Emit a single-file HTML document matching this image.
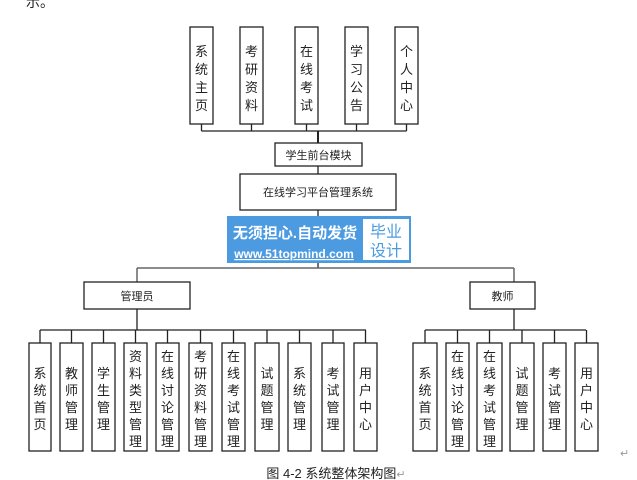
<!DOCTYPE html>
<html><head><meta charset="utf-8"><style>
body{margin:0;background:#fff;width:637px;height:480px;overflow:hidden}
svg{display:block}
text{font-family:"Liberation Sans","Noto Sans CJK SC",sans-serif;fill:#222}
</style></head><body>
<svg width="637" height="480" viewBox="0 0 637 480" xmlns="http://www.w3.org/2000/svg">
<text x="26" y="7" font-size="14">示。</text>
<g stroke="#222" stroke-width="1.3" fill="#fff">
<rect x="190" y="27" width="23" height="97"/>
<rect x="240" y="27" width="23" height="97"/>
<rect x="295" y="27" width="23" height="97"/>
<rect x="345" y="27" width="23" height="97"/>
<rect x="395" y="27" width="23" height="97"/>
<path d="M201.5 124V131M251.5 124V131M306.5 124V131M356.5 124V131M406.5 124V131M201.5 131H406.5" fill="none"/>
<path d="M318 131V143" stroke-width="2" fill="none"/>
<rect x="275" y="143" width="87" height="23"/>
<path d="M318 166V174" fill="none"/>
<rect x="240" y="174" width="156" height="36"/>
<path d="M318 210V216M318 263V268" fill="none"/>
<path d="M137 268H514M137 268V282M514 268V282" fill="none" stroke="#666" stroke-width="1.5"/>
<rect x="84" y="282" width="106" height="27"/>
<rect x="470" y="282" width="65" height="27"/>
<path d="M137 309V330M40 330H366M514 309V330M425 330H586" fill="none"/>
<path d="M40 330V343M71.5 330V343M103.5 330V343M135.5 330V343M167.5 330V343M200.5 330V343M233.5 330V343M267 330V343M299.5 330V343M333 330V343M365.5 330V343" fill="none"/>
<path d="M425 330V343M457.5 330V343M489.5 330V343M522 330V343M554.5 330V343M586.5 330V343" fill="none"/>
<rect x="29" y="343" width="22" height="108"/>
<rect x="60" y="343" width="23" height="108"/>
<rect x="92" y="343" width="23" height="108"/>
<rect x="124" y="343" width="23" height="108"/>
<rect x="156" y="343" width="23" height="108"/>
<rect x="189" y="343" width="23" height="108"/>
<rect x="222" y="343" width="23" height="108"/>
<rect x="255" y="343" width="24" height="108"/>
<rect x="288" y="343" width="23" height="108"/>
<rect x="322" y="343" width="22" height="108"/>
<rect x="354" y="343" width="23" height="108"/>
<rect x="413" y="343" width="24" height="108"/>
<rect x="446" y="343" width="23" height="108"/>
<rect x="477" y="343" width="25" height="108"/>
<rect x="510" y="343" width="24" height="108"/>
<rect x="543" y="343" width="23" height="108"/>
<rect x="575" y="343" width="23" height="108"/>
</g>
<g font-size="13" text-anchor="middle">
<text x="201.5" y="56">系</text><text x="201.5" y="74">统</text><text x="201.5" y="92">主</text><text x="201.5" y="110">页</text>
<text x="251.5" y="56">考</text><text x="251.5" y="74">研</text><text x="251.5" y="92">资</text><text x="251.5" y="110">料</text>
<text x="306.5" y="56">在</text><text x="306.5" y="74">线</text><text x="306.5" y="92">考</text><text x="306.5" y="110">试</text>
<text x="356.5" y="56">学</text><text x="356.5" y="74">习</text><text x="356.5" y="92">公</text><text x="356.5" y="110">告</text>
<text x="406.5" y="56">个</text><text x="406.5" y="74">人</text><text x="406.5" y="92">中</text><text x="406.5" y="110">心</text>
</g>
<g font-size="11" text-anchor="middle">
<text x="318.5" y="159">学生前台模块</text>
<text x="318" y="196">在线学习平台管理系统</text>
<text x="137" y="300">管理员</text>
<text x="502.5" y="300">教师</text>
</g>
<rect x="227" y="216" width="184" height="47" fill="#4c9be0"/>
<rect x="363" y="219" width="46" height="41" fill="#fff"/>
<text x="295" y="238" font-size="15" font-weight="bold" text-anchor="middle" style="fill:#fff">无须担心.自动发货</text>
<text x="294" y="258" font-size="12" font-weight="bold" text-anchor="middle" text-decoration="underline" style="fill:#fff">www.51topmind.com</text>
<text x="386" y="237" font-size="16" text-anchor="middle" style="fill:#4c9be0">毕业</text>
<text x="386" y="256" font-size="16" text-anchor="middle" style="fill:#4c9be0">设计</text>
<g font-size="13" text-anchor="middle">
<text x="40" y="378">系</text><text x="40" y="395">统</text><text x="40" y="412">首</text><text x="40" y="429">页</text>
<text x="71.5" y="378">教</text><text x="71.5" y="395">师</text><text x="71.5" y="412">管</text><text x="71.5" y="429">理</text>
<text x="103.5" y="378">学</text><text x="103.5" y="395">生</text><text x="103.5" y="412">管</text><text x="103.5" y="429">理</text>
<text x="135.5" y="361">资</text><text x="135.5" y="378">料</text><text x="135.5" y="395">类</text><text x="135.5" y="412">型</text><text x="135.5" y="429">管</text><text x="135.5" y="446">理</text>
<text x="167.5" y="361">在</text><text x="167.5" y="378">线</text><text x="167.5" y="395">讨</text><text x="167.5" y="412">论</text><text x="167.5" y="429">管</text><text x="167.5" y="446">理</text>
<text x="200.5" y="361">考</text><text x="200.5" y="378">研</text><text x="200.5" y="395">资</text><text x="200.5" y="412">料</text><text x="200.5" y="429">管</text><text x="200.5" y="446">理</text>
<text x="233.5" y="361">在</text><text x="233.5" y="378">线</text><text x="233.5" y="395">考</text><text x="233.5" y="412">试</text><text x="233.5" y="429">管</text><text x="233.5" y="446">理</text>
<text x="267" y="378">试</text><text x="267" y="395">题</text><text x="267" y="412">管</text><text x="267" y="429">理</text>
<text x="299.5" y="378">系</text><text x="299.5" y="395">统</text><text x="299.5" y="412">管</text><text x="299.5" y="429">理</text>
<text x="333" y="378">考</text><text x="333" y="395">试</text><text x="333" y="412">管</text><text x="333" y="429">理</text>
<text x="365.5" y="378">用</text><text x="365.5" y="395">户</text><text x="365.5" y="412">中</text><text x="365.5" y="429">心</text>
<text x="425" y="378">系</text><text x="425" y="395">统</text><text x="425" y="412">首</text><text x="425" y="429">页</text>
<text x="457.5" y="361">在</text><text x="457.5" y="378">线</text><text x="457.5" y="395">讨</text><text x="457.5" y="412">论</text><text x="457.5" y="429">管</text><text x="457.5" y="446">理</text>
<text x="489.5" y="361">在</text><text x="489.5" y="378">线</text><text x="489.5" y="395">考</text><text x="489.5" y="412">试</text><text x="489.5" y="429">管</text><text x="489.5" y="446">理</text>
<text x="522" y="378">试</text><text x="522" y="395">题</text><text x="522" y="412">管</text><text x="522" y="429">理</text>
<text x="554.5" y="378">考</text><text x="554.5" y="395">试</text><text x="554.5" y="412">管</text><text x="554.5" y="429">理</text>
<text x="586.5" y="378">用</text><text x="586.5" y="395">户</text><text x="586.5" y="412">中</text><text x="586.5" y="429">心</text>
</g>
<text x="620" y="457" font-size="11" style="fill:#999">↵</text>
<text x="336" y="478" font-size="13" text-anchor="middle">图 4-2 系统整体架构图<tspan style="fill:#999" font-size="11">↵</tspan></text>
</svg>
</body></html>
